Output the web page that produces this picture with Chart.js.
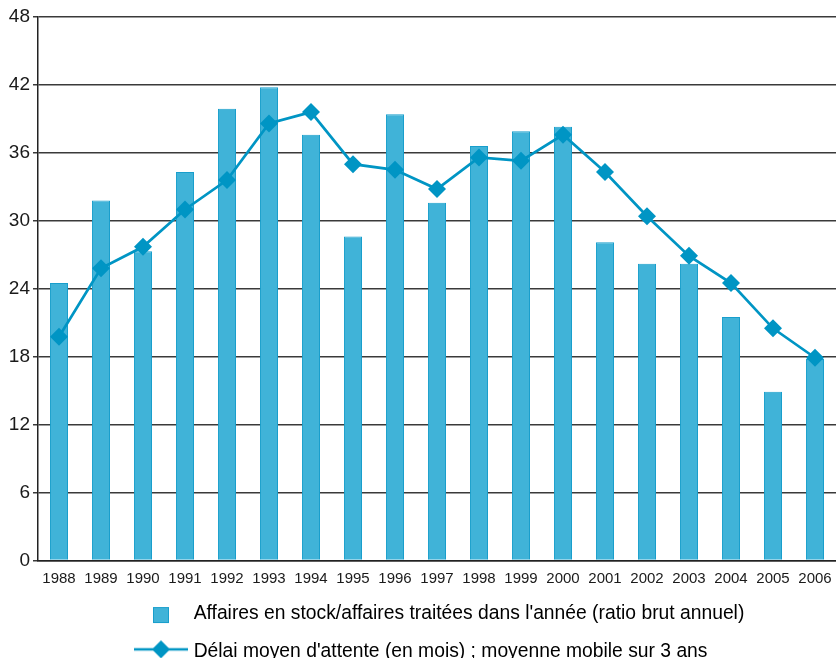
<!DOCTYPE html>
<html>
<head>
<meta charset="utf-8">
<script src="https://cdn.jsdelivr.net/npm/chart.js@4.4.1/dist/chart.umd.min.js"></script>
<style>
  html, body { margin: 0; padding: 0; background: #fff; }
  #wrap { width: 836px; height: 658px; }
  canvas { display: block; }
</style>
</head>
<body>
<div id="wrap"><canvas id="myChart" width="836" height="658"></canvas></div>
<script>
const years = ["1988", "1989", "1990", "1991", "1992", "1993", "1994", "1995", "1996", "1997",
  "1998", "1999", "2000", "2001", "2002", "2003", "2004", "2005", "2006"];
const ratio = [24.5, 31.8, 27.3, 34.3, 39.9, 41.8, 37.6, 28.6, 39.4, 31.6,
  36.6, 37.9, 38.3, 28.1, 26.2, 26.2, 21.5, 14.9, 17.8];
const delai = [19.75, 25.8, 27.7, 31.0, 33.6, 38.6, 39.6, 35.0, 34.5, 32.8,
  35.6, 35.3, 37.6, 34.3, 30.4, 26.9, 24.5, 20.5, 17.9];
const labelRatio = "Affaires en stock/affaires traitées dans l'année (ratio brut annuel)";
const labelDelai = "Délai moyen d'attente (en mois) ; moyenne mobile sur 3 ans";

const barFill = "rgb(64, 179, 216)";
const barBorder = "rgb(24, 158, 204)";
const lineColor = "rgb(0, 149, 196)";

Chart.defaults.font.family = "'Liberation Sans', Arial, sans-serif";
Chart.defaults.color = "#1a1a1a";

// legend swatches (drawn once, used as pointStyle images)
function legendMark(kind) {
  const c = document.createElement("canvas");
  c.width = 140;
  c.height = 24;
  const g = c.getContext("2d");
  if (kind === "bar") {
    g.fillStyle = barFill;
    g.strokeStyle = barBorder;
    g.lineWidth = 1;
    g.fillRect(103.5, 5.5, 15, 15);
    g.strokeRect(103.5, 5.5, 15, 15);
  } else {
    g.strokeStyle = lineColor;
    g.lineWidth = 2.5;
    g.beginPath();
    g.moveTo(84, 10);
    g.lineTo(138, 10);
    g.stroke();
    g.fillStyle = lineColor;
    g.beginPath();
    g.moveTo(111, 1);
    g.lineTo(120, 10);
    g.lineTo(111, 19);
    g.lineTo(102, 10);
    g.closePath();
    g.fill();
  }
  return c;
}
const marks = [legendMark("bar"), legendMark("line")];

var data = {
  labels: years,
  datasets: [
    {
      type: "bar",
      label: labelRatio,
      data: ratio,
      backgroundColor: barFill,
      borderColor: barBorder,
      borderWidth: 1,
      barPercentage: 0.43,
      categoryPercentage: 1,
      order: 1,
    },
    {
      type: "line",
      label: labelDelai,
      data: delai,
      borderColor: lineColor,
      backgroundColor: lineColor,
      borderWidth: 2.7,
      pointStyle: "rectRot",
      pointRadius: 9,
      pointBorderWidth: 0,
      tension: 0,
      order: 0,
    },
  ],
};

var ctx = document.getElementById("myChart").getContext("2d");
var chart = new Chart(ctx, {
  type: "bar",
  data: data,
  options: {
    animation: false,
    responsive: false,
    layout: {
      autoPadding: false,
      padding: { top: 17, left: 0, right: 0, bottom: -13 },
    },
    plugins: {
      tooltip: { enabled: false },
      legend: {
        display: true,
        position: "bottom",
        align: "start",
        fullSize: false,
        labels: {
          usePointStyle: true,
          pointStyleWidth: 128,
          padding: 18,
          color: "#1a1a1a",
          font: { size: 19.3 },
          generateLabels: (chart) =>
            chart.data.datasets.map((ds, i) => ({
              text: ds.label,
              pointStyle: marks[i],
              fillStyle: ds.backgroundColor,
              strokeStyle: ds.borderColor,
              lineWidth: 0,
              hidden: false,
              datasetIndex: i,
            })),
        },
      },
    },
    scales: {
      x: {
        afterFit: (axis) => {
          axis.height = 26;
        },
        grid: { display: false, drawTicks: true, tickLength: 9 },
        border: { display: true, color: "#222", width: 1.5 },
        ticks: {
          padding: 0,
          maxRotation: 0,
          autoSkip: false,
          color: "#1a1a1a",
          font: { size: 15 },
        },
      },
      y: {
        min: 0,
        max: 48,
        afterFit: (axis) => {
          axis.width = 38;
        },
        grid: {
          color: "#3a3a3a",
          lineWidth: 1.5,
          tickLength: 5,
        },
        border: { display: true, color: "#222", width: 1.5 },
        ticks: {
          stepSize: 6,
          padding: 3,
          color: "#1a1a1a",
          font: { size: 19 },
        },
      },
    },
  },
});
</script>
</body>
</html>
